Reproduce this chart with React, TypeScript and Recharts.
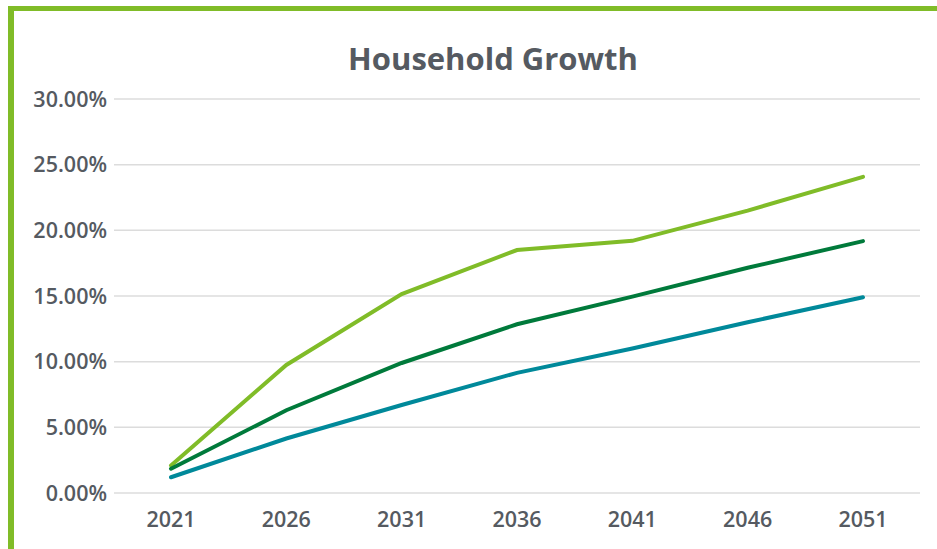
import React from 'react';
import { LineChart, Line, XAxis, YAxis, CartesianGrid } from 'recharts';

const years = ['2021', '2026', '2031', '2036', '2041', '2046', '2051'];
const highGrowth = [2.1, 9.75, 15.15, 18.5, 19.2, 21.5, 24.07];
const midGrowth = [1.85, 6.3, 9.9, 12.85, 14.95, 17.15, 19.18];
const lowGrowth = [1.2, 4.15, 6.7, 9.15, 11.0, 13.0, 14.9];
const yTicks = [0, 5, 10, 15, 20, 25, 30];

const data = years.map((y, i) => ({
  year: y,
  high: highGrowth[i],
  mid: midGrowth[i],
  low: lowGrowth[i],
}));

const FONT = '"Open Sans", "Noto Sans", sans-serif';
const BORDER = '#80bc28';
const TEXT = '#555a61';

export default function App() {
  return (
    <div style={{ position: 'absolute', left: 0, top: 0, width: 937, height: 549, background: '#fff', overflow: 'hidden' }}>
      <div style={{ position: 'absolute', left: 8, top: 6, width: 940, height: 540, borderLeft: `6px solid ${BORDER}`, borderTop: `5px solid ${BORDER}`, borderBottom: `3px solid ${BORDER}`, boxSizing: 'content-box' }} />
      <div style={{ position: 'absolute', left: 0, width: 986, top: 37, textAlign: 'center', fontFamily: FONT, fontWeight: 700, fontSize: 31, color: TEXT, lineHeight: '42px' }}>
        Household Growth
      </div>
      <div style={{ position: 'absolute', left: 0, top: 0 }}>
        <LineChart width={937} height={549} data={data} margin={{ top: 99, right: 17, bottom: 26, left: 0 }}>
          <CartesianGrid vertical={false} stroke="#dcdcdc" strokeWidth={1.5} />
          <XAxis
            dataKey="year"
            axisLine={false}
            tickLine={false}
            height={30}
            padding={{ left: 57, right: 57 }}
            tickMargin={13}
            tick={{ fill: TEXT, fontFamily: FONT, fontWeight: 600, fontSize: 21.5 }}
          />
          <YAxis
            width={114}
            domain={[0, 30]}
            ticks={yTicks}
            axisLine={false}
            tickLine={false}
            tickMargin={1}
            tickFormatter={(v: number) => v.toFixed(2) + '%'}
            tick={{ fill: TEXT, fontFamily: FONT, fontWeight: 600, fontSize: 21.5 }}
          />
          <Line type="linear" dataKey="high" stroke="#80bc28" strokeWidth={4} dot={false} strokeLinecap="round" isAnimationActive={false} />
          <Line type="linear" dataKey="mid" stroke="#007a3b" strokeWidth={4} dot={false} strokeLinecap="round" isAnimationActive={false} />
          <Line type="linear" dataKey="low" stroke="#00899a" strokeWidth={4} dot={false} strokeLinecap="round" isAnimationActive={false} />
        </LineChart>
      </div>
    </div>
  );
}
